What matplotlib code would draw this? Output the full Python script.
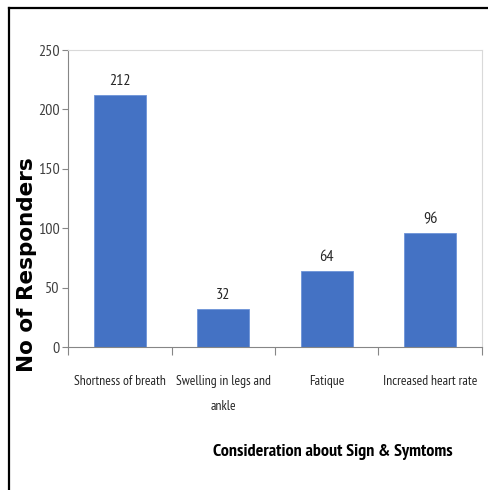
import numpy as np
import matplotlib.pyplot as plt
from matplotlib.lines import Line2D

# Dados
categorias = ['Shortness of breath', 'Swelling in legs and\nankle', 'Fatique', 'Increased heart rate']
respondentes = [212, 32, 64, 96]
yticks = [0, 50, 100, 150, 200, 250]

cor_barra = '#4472C4'
fonte_estreita = ['PT Sans Narrow', 'DejaVu Sans']

fig = plt.figure(figsize=[4.89, 4.90], dpi=100)
ax = fig.add_axes([68 / 489, 1 - 347 / 490, (482 - 68) / 489, (347 - 50) / 490])

x = np.arange(len(categorias))
ax.bar(x, respondentes, width=0.5, color=cor_barra, edgecolor='#6d93d8', linewidth=0.6, zorder=3)

# Rótulos de valor acima das barras
for xi, v in zip(x, respondentes):
    ax.text(xi, v + 6, str(v), ha='center', va='bottom', fontsize=11.5, color='#262626', family=fonte_estreita)

ax.set_xlim(-0.5, 3.5)
ax.set_ylim(0, 250)
ax.set_yticks(yticks)
ax.set_yticklabels([str(t) for t in yticks], family=fonte_estreita, fontsize=11.5, color='#404040')
ax.tick_params(axis='y', length=4, width=0.8, color='#868686', pad=2)

ax.set_xticks(x)
ax.set_xticklabels(categorias, family=fonte_estreita, fontsize=9.8, color='#262626', linespacing=2.2,
                   va='top')
ax.tick_params(axis='x', which='major', length=0, pad=20)
ax.set_xticks(np.arange(-0.5, 4.0, 1.0), minor=True)
ax.tick_params(axis='x', which='minor', length=6, width=0.8, color='#868686')

ax.spines['left'].set_color('#868686')
ax.spines['bottom'].set_color('#868686')
ax.spines['top'].set_color('#d9d9d9')
ax.spines['right'].set_color('#d9d9d9')
ax.spines['bottom'].set_zorder(4)

fig.text(27 / 489, 1 - 265 / 490, 'No of Responders', rotation=90, ha='center', va='center',
         fontsize=15.5, fontweight='bold', family='DejaVu Sans', color='black')
fig.text(333 / 489, 1 - 452 / 490, 'Consideration about Sign & Symtoms', ha='center', va='center',
         fontsize=13, fontweight='bold', family=fonte_estreita, color='black')

# Moldura preta (apenas esquerda e topo visíveis)
fig.add_artist(Line2D([8.5 / 489, 8.5 / 489], [0, 1 - 8.5 / 490], transform=fig.transFigure, color='black', linewidth=1.6))
fig.add_artist(Line2D([8.5 / 489, 1], [1 - 8.5 / 490, 1 - 8.5 / 490], transform=fig.transFigure, color='black', linewidth=1.6))

plt.savefig('out.png', dpi=100)
plt.close()
